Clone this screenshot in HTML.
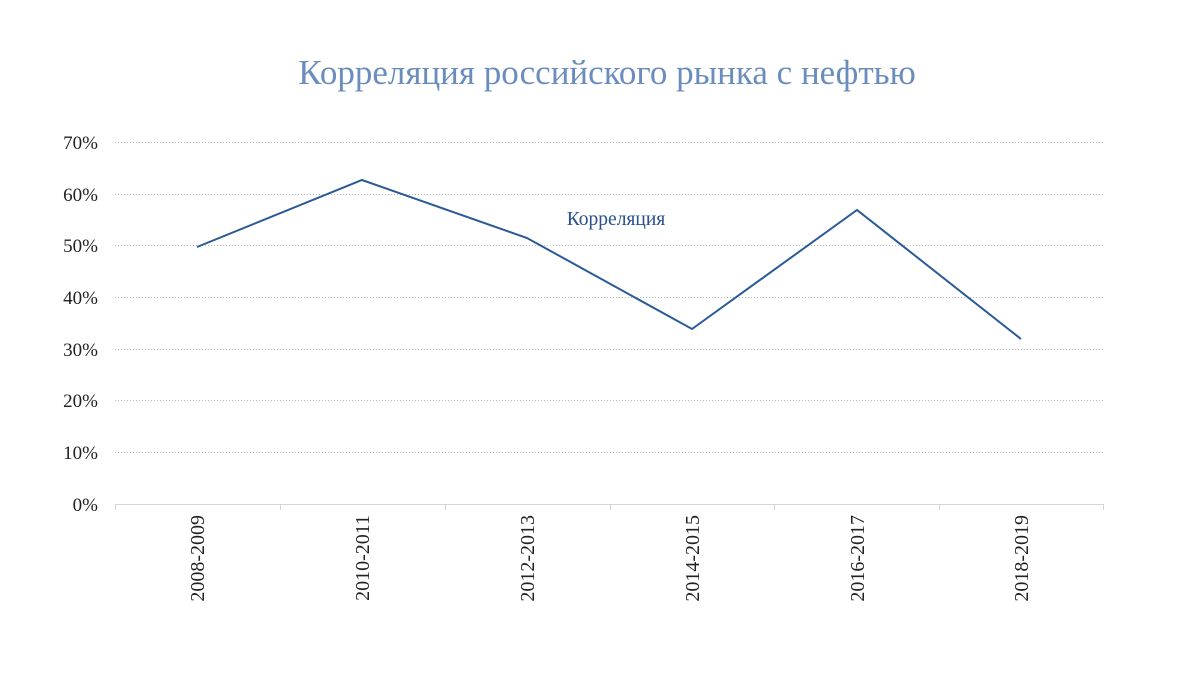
<!DOCTYPE html>
<html><head><meta charset="utf-8"><style>body{margin:0;background:#fff}svg{display:block}</style></head>
<body>
<svg width="1200" height="675" xmlns="http://www.w3.org/2000/svg" font-family="Liberation Serif, serif">
<rect width="1200" height="675" fill="#fff"/>
<text x="607" y="84" text-anchor="middle" font-size="35" fill="#6a8dbd">Корреляция российского рынка с нефтью</text>
<g stroke="#b8b8b8" stroke-width="1" stroke-dasharray="1,2">
<line x1="115" x2="1104" y1="142.5" y2="142.5"/>
<line x1="115" x2="1104" y1="194.5" y2="194.5"/>
<line x1="115" x2="1104" y1="245.5" y2="245.5"/>
<line x1="115" x2="1104" y1="297.5" y2="297.5"/>
<line x1="115" x2="1104" y1="349.5" y2="349.5"/>
<line x1="115" x2="1104" y1="400.5" y2="400.5"/>
<line x1="115" x2="1104" y1="452.5" y2="452.5"/>
</g>
<g stroke="#d6d6d6" stroke-width="1">
<line x1="115" x2="1104" y1="504.5" y2="504.5"/>
<line x1="115.5" x2="115.5" y1="504" y2="510"/>
<line x1="280.5" x2="280.5" y1="504" y2="510"/>
<line x1="445.5" x2="445.5" y1="504" y2="510"/>
<line x1="610.5" x2="610.5" y1="504" y2="510"/>
<line x1="774.5" x2="774.5" y1="504" y2="510"/>
<line x1="939.5" x2="939.5" y1="504" y2="510"/>
<line x1="1103.5" x2="1103.5" y1="504" y2="510"/>
</g>
<g font-size="19" fill="#222" text-anchor="end">
<text x="98" y="149">70%</text>
<text x="98" y="201">60%</text>
<text x="98" y="252">50%</text>
<text x="98" y="304">40%</text>
<text x="98" y="356">30%</text>
<text x="98" y="407">20%</text>
<text x="98" y="459">10%</text>
<text x="98" y="511">0%</text>
</g>
<g font-size="20" fill="#222" text-anchor="end">
<text transform="translate(204,515) rotate(-90)">2008-2009</text>
<text transform="translate(369,515) rotate(-90)">2010-2011</text>
<text transform="translate(534,515) rotate(-90)">2012-2013</text>
<text transform="translate(699,515) rotate(-90)">2014-2015</text>
<text transform="translate(864,515) rotate(-90)">2016-2017</text>
<text transform="translate(1028,515) rotate(-90)">2018-2019</text>
</g>
<polyline fill="none" stroke="#2a5a96" stroke-width="2" points="197,247 362,180 527,238 692,329 857,210 1021,339"/>
<text x="616" y="225" text-anchor="middle" font-size="19.5" fill="#2a4f8a">Корреляция</text>
</svg>
</body></html>
